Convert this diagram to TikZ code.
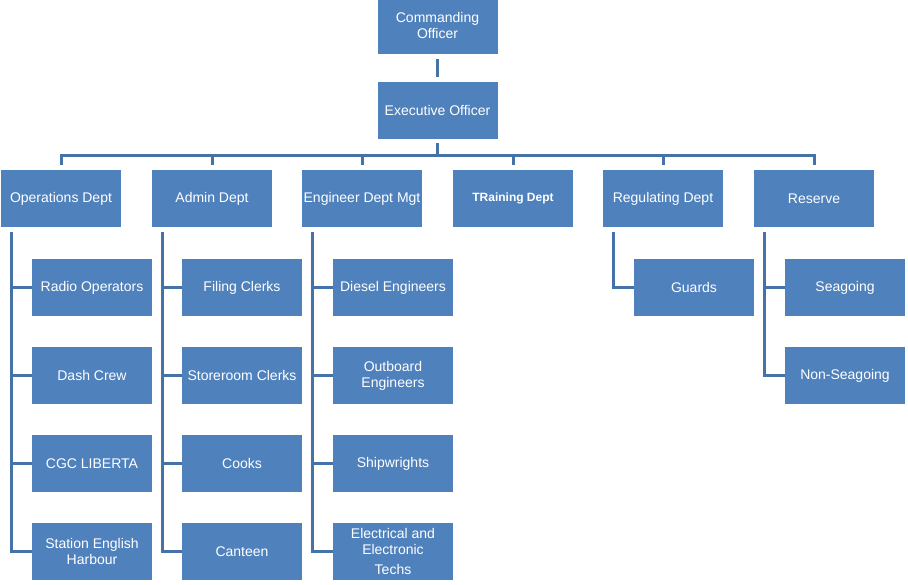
\documentclass[tikz,border=0pt]{standalone}
\usepackage{fontspec}
\setmainfont{Liberation Sans}
\usetikzlibrary{calc}

\definecolor{boxblue}{HTML}{4F81BD}
\definecolor{linkblue}{HTML}{4572A7}

\tikzset{
  box/.style={fill=boxblue, draw=none, text=white, align=center,
    minimum width=90pt, minimum height=42.75pt, inner sep=1pt,
    font=\fontsize{10.5}{12}\selectfont},
  link/.style={draw=linkblue, line width=2.25pt}
}

\begin{document}
\begin{tikzpicture}[x=0.75pt, y=-0.75pt]
\useasboundingbox (0,0) rectangle (908,585);

% top of the chart
\node[box] (co) at (437.5,25.5) {Commanding\\Officer};
\node[box] (eo) at (437.5,110.5) {Executive Officer};
\draw[link, shorten <=3.75pt, shorten >=3.75pt] (co) -- (eo);

% departments
\foreach \d/\x/\name in {ops/61/Operations Dept, adm/212/Admin Dept,
  eng/362/Engineer Dept Mgt, trn/513/{\fontsize{9}{11}\selectfont\bfseries TRaining Dept},
  reg/663/Regulating Dept, res/814/Reserve} {
  \node[box] (\d) at (\x,198.5) {\name};
  \draw[link, shorten <=3pt, shorten >=3.75pt] (eo.south) -- ++(0,16) -| (\d.north);
}

% sections under each department
\foreach \t [count=\i] in {Radio Operators, Dash Crew, CGC LIBERTA, {Station English\\Harbour}} {
  \node[box] (ops\i) at (92,199.5+88*\i) {\t};
  \draw[link, shorten <=3.75pt] ([xshift=8.25pt]ops.south west) |- (ops\i);
}
\foreach \t [count=\i] in {Filing Clerks, Storeroom Clerks, Cooks, Canteen} {
  \node[box] (adm\i) at (242,199.5+88*\i) {\t};
  \draw[link, shorten <=3.75pt] ([xshift=8.25pt]adm.south west) |- (adm\i);
}
\foreach \t [count=\i] in {Diesel Engineers, {Outboard\\Engineers}, Shipwrights,
  {Electrical and\\Electronic\\[3pt]Techs}} {
  \node[box] (eng\i) at (393,199.5+88*\i) {\t};
  \draw[link, shorten <=3.75pt] ([xshift=8.25pt]eng.south west) |- (eng\i);
}
\foreach \t [count=\i] in {Guards} {
  \node[box] (reg\i) at (694,199.5+88*\i) {\t};
  \draw[link, shorten <=3.75pt] ([xshift=8.25pt]reg.south west) |- (reg\i);
}
\foreach \t [count=\i] in {Seagoing, Non-Seagoing} {
  \node[box] (res\i) at (845,199.5+88*\i) {\t};
  \draw[link, shorten <=3.75pt] ([xshift=8.25pt]res.south west) |- (res\i);
}

\end{tikzpicture}
\end{document}
